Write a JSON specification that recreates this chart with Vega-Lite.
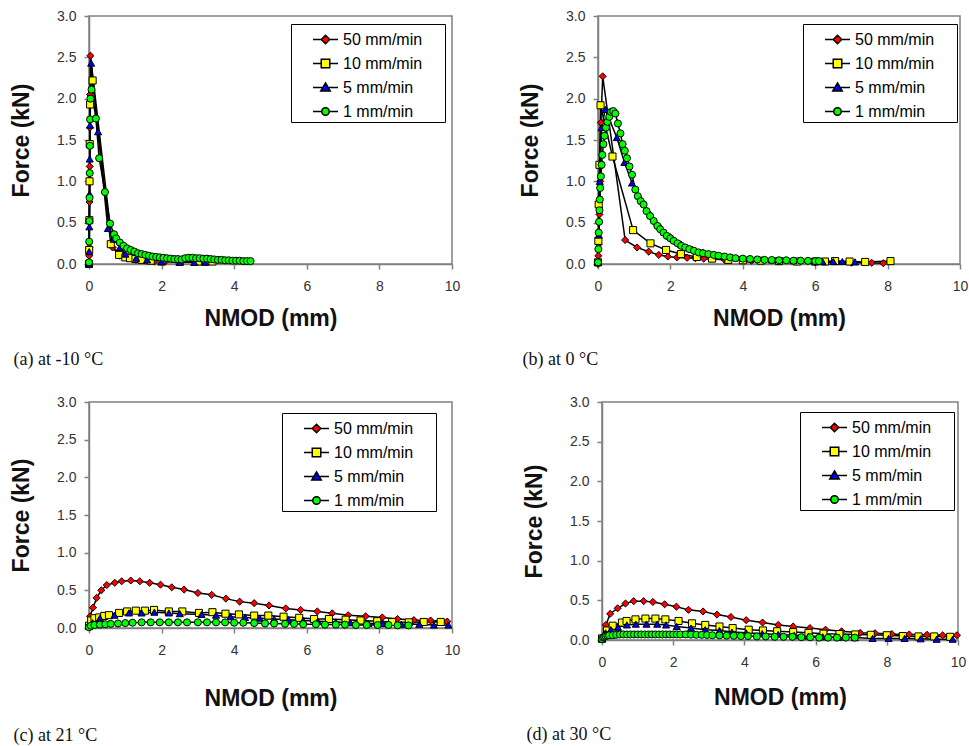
{
  "$schema": "https://vega.github.io/schema/vega-lite/v6.json",
  "background": "white",
  "padding": {"left": 9, "top": 8, "right": 0, "bottom": 0},
  "config": {
    "view": {"stroke": "#808080", "strokeWidth": 1.5},
    "axis": {
      "grid": false,
      "domainColor": "#808080", "domainWidth": 1.5,
      "tickColor": "#808080", "tickWidth": 1.5, "tickSize": 5,
      "labelFont": "Liberation Sans", "labelFontSize": 14, "labelColor": "#333333",
      "titleFont": "Liberation Sans", "titleFontSize": 23, "titleFontWeight": "bold", "titleColor": "#111111",
      "labelFlush": false
    },
    "axisX": {"labelPadding": 10, "titlePadding": 14},
    "axisY": {"labelPadding": 8, "titlePadding": 23},
    "title": {"font": "Liberation Serif", "fontSize": 18, "fontWeight": "normal", "color": "#111111", "orient": "bottom", "anchor": "start", "frame": "bounds", "offset": 21, "dx": 3},
    "legend": {"labelFont": "Liberation Sans", "labelFontSize": 16, "labelColor": "black", "padding": 2, "rowPadding": 2, "symbolOffset": 19, "labelOffset": 4, "symbolSize": 625, "symbolOpacity": 1, "symbolStrokeColor": "black", "symbolStrokeWidth": 1.5, "strokeColor": "black", "fillColor": "white", "title": null, "orient": "none"}
  },
  "datasets": {
    "a": [
      {"s":"50 mm/min","x":0,"y":0},{"s":"50 mm/min","x":0.005,"y":0.1},{"s":"50 mm/min","x":0.01,"y":0.2},{"s":"50 mm/min","x":0.015,"y":0.75},{"s":"50 mm/min","x":0.02,"y":1.18},{"s":"50 mm/min","x":0.025,"y":1.65},{"s":"50 mm/min","x":0.03,"y":2.05},{"s":"50 mm/min","x":0.04,"y":2.52},{"s":"50 mm/min","x":0.65,"y":0.2},{"s":"50 mm/min","x":0.85,"y":0.1},{"s":"50 mm/min","x":1.05,"y":0.07},{"s":"50 mm/min","x":1.3,"y":0.05},{"s":"50 mm/min","x":1.55,"y":0.04},{"s":"50 mm/min","x":1.8,"y":0.03},{"s":"50 mm/min","x":2.1,"y":0.03},
      {"s":"10 mm/min","x":0,"y":0},{"s":"10 mm/min","x":0.005,"y":0.17},{"s":"10 mm/min","x":0.01,"y":0.53},{"s":"10 mm/min","x":0.015,"y":1.0},{"s":"10 mm/min","x":0.02,"y":1.45},{"s":"10 mm/min","x":0.03,"y":1.93},{"s":"10 mm/min","x":0.1,"y":2.22},{"s":"10 mm/min","x":0.6,"y":0.24},{"s":"10 mm/min","x":0.83,"y":0.11},{"s":"10 mm/min","x":1.0,"y":0.08},{"s":"10 mm/min","x":1.13,"y":0.07},{"s":"10 mm/min","x":1.28,"y":0.06},{"s":"10 mm/min","x":1.45,"y":0.05},{"s":"10 mm/min","x":1.7,"y":0.04},{"s":"10 mm/min","x":2.0,"y":0.03},{"s":"10 mm/min","x":2.5,"y":0.03},{"s":"10 mm/min","x":3.0,"y":0.03},{"s":"10 mm/min","x":3.4,"y":0.03},
      {"s":"5 mm/min","x":0,"y":0},{"s":"5 mm/min","x":0.005,"y":0.15},{"s":"5 mm/min","x":0.01,"y":0.45},{"s":"5 mm/min","x":0.015,"y":0.85},{"s":"5 mm/min","x":0.02,"y":1.27},{"s":"5 mm/min","x":0.03,"y":1.68},{"s":"5 mm/min","x":0.06,"y":2.43},{"s":"5 mm/min","x":0.25,"y":1.6},{"s":"5 mm/min","x":0.52,"y":0.43},{"s":"5 mm/min","x":0.68,"y":0.3},{"s":"5 mm/min","x":0.85,"y":0.2},{"s":"5 mm/min","x":1.0,"y":0.12},{"s":"5 mm/min","x":1.3,"y":0.07},{"s":"5 mm/min","x":1.6,"y":0.05},{"s":"5 mm/min","x":2.0,"y":0.03},{"s":"5 mm/min","x":2.5,"y":0.02},{"s":"5 mm/min","x":2.9,"y":0.02},{"s":"5 mm/min","x":3.2,"y":0.02},
      {"s":"1 mm/min","x":0,"y":0.02},{"s":"1 mm/min","x":0.005,"y":0.27},{"s":"1 mm/min","x":0.01,"y":0.52},{"s":"1 mm/min","x":0.015,"y":0.8},{"s":"1 mm/min","x":0.02,"y":1.1},{"s":"1 mm/min","x":0.025,"y":1.43},{"s":"1 mm/min","x":0.03,"y":1.75},{"s":"1 mm/min","x":0.04,"y":2.0},{"s":"1 mm/min","x":0.07,"y":2.11},{"s":"1 mm/min","x":0.19,"y":1.76},{"s":"1 mm/min","x":0.28,"y":1.28},{"s":"1 mm/min","x":0.44,"y":0.87},{"s":"1 mm/min","x":0.58,"y":0.49},{"s":"1 mm/min","x":0.69,"y":0.36},{"s":"1 mm/min","x":0.75,"y":0.31},{"s":"1 mm/min","x":0.85,"y":0.26},{"s":"1 mm/min","x":0.95,"y":0.22},{"s":"1 mm/min","x":1.05,"y":0.19},{"s":"1 mm/min","x":1.15,"y":0.17},{"s":"1 mm/min","x":1.25,"y":0.15},{"s":"1 mm/min","x":1.35,"y":0.13},{"s":"1 mm/min","x":1.45,"y":0.12},{"s":"1 mm/min","x":1.55,"y":0.11},{"s":"1 mm/min","x":1.65,"y":0.1},{"s":"1 mm/min","x":1.75,"y":0.09},{"s":"1 mm/min","x":1.85,"y":0.085},{"s":"1 mm/min","x":1.95,"y":0.08},{"s":"1 mm/min","x":2.05,"y":0.075},{"s":"1 mm/min","x":2.15,"y":0.07},{"s":"1 mm/min","x":2.25,"y":0.065},{"s":"1 mm/min","x":2.35,"y":0.06},{"s":"1 mm/min","x":2.45,"y":0.06},{"s":"1 mm/min","x":2.55,"y":0.055},{"s":"1 mm/min","x":2.65,"y":0.07},{"s":"1 mm/min","x":2.75,"y":0.075},{"s":"1 mm/min","x":2.85,"y":0.075},{"s":"1 mm/min","x":2.95,"y":0.07},{"s":"1 mm/min","x":3.05,"y":0.07},{"s":"1 mm/min","x":3.15,"y":0.065},{"s":"1 mm/min","x":3.25,"y":0.065},{"s":"1 mm/min","x":3.35,"y":0.06},{"s":"1 mm/min","x":3.45,"y":0.055},{"s":"1 mm/min","x":3.55,"y":0.05},{"s":"1 mm/min","x":3.65,"y":0.05},{"s":"1 mm/min","x":3.75,"y":0.045},{"s":"1 mm/min","x":3.85,"y":0.045},{"s":"1 mm/min","x":3.95,"y":0.04},{"s":"1 mm/min","x":4.05,"y":0.04},{"s":"1 mm/min","x":4.15,"y":0.04},{"s":"1 mm/min","x":4.25,"y":0.035},{"s":"1 mm/min","x":4.35,"y":0.035},{"s":"1 mm/min","x":4.45,"y":0.035}
    ],
    "b": [
      {"s":"50 mm/min","x":0,"y":0},{"s":"50 mm/min","x":0.01,"y":0.1},{"s":"50 mm/min","x":0.02,"y":0.24},{"s":"50 mm/min","x":0.04,"y":0.6},{"s":"50 mm/min","x":0.06,"y":1.0},{"s":"50 mm/min","x":0.08,"y":1.71},{"s":"50 mm/min","x":0.13,"y":2.27},{"s":"50 mm/min","x":0.75,"y":0.29},{"s":"50 mm/min","x":1.08,"y":0.2},{"s":"50 mm/min","x":1.4,"y":0.15},{"s":"50 mm/min","x":1.68,"y":0.11},{"s":"50 mm/min","x":1.93,"y":0.09},{"s":"50 mm/min","x":2.18,"y":0.08},{"s":"50 mm/min","x":2.46,"y":0.075},{"s":"50 mm/min","x":2.69,"y":0.07},{"s":"50 mm/min","x":2.92,"y":0.065},{"s":"50 mm/min","x":3.5,"y":0.05},{"s":"50 mm/min","x":4.24,"y":0.04},{"s":"50 mm/min","x":5.0,"y":0.03},{"s":"50 mm/min","x":6.0,"y":0.02},{"s":"50 mm/min","x":7.0,"y":0.015},{"s":"50 mm/min","x":7.56,"y":0.015},{"s":"50 mm/min","x":7.88,"y":0.01},
      {"s":"10 mm/min","x":0,"y":0.02},{"s":"10 mm/min","x":0.01,"y":0.28},{"s":"10 mm/min","x":0.02,"y":0.72},{"s":"10 mm/min","x":0.04,"y":1.2},{"s":"10 mm/min","x":0.07,"y":1.92},{"s":"10 mm/min","x":0.4,"y":1.3},{"s":"10 mm/min","x":0.97,"y":0.41},{"s":"10 mm/min","x":1.45,"y":0.25},{"s":"10 mm/min","x":1.88,"y":0.17},{"s":"10 mm/min","x":2.29,"y":0.12},{"s":"10 mm/min","x":2.73,"y":0.085},{"s":"10 mm/min","x":3.15,"y":0.065},{"s":"10 mm/min","x":3.6,"y":0.05},{"s":"10 mm/min","x":4.0,"y":0.045},{"s":"10 mm/min","x":4.5,"y":0.04},{"s":"10 mm/min","x":5.0,"y":0.035},{"s":"10 mm/min","x":5.5,"y":0.03},{"s":"10 mm/min","x":6.0,"y":0.03},{"s":"10 mm/min","x":6.27,"y":0.03},{"s":"10 mm/min","x":6.55,"y":0.035},{"s":"10 mm/min","x":6.95,"y":0.03},{"s":"10 mm/min","x":7.38,"y":0.025},{"s":"10 mm/min","x":8.08,"y":0.035},
      {"s":"5 mm/min","x":0,"y":0.02},{"s":"5 mm/min","x":0.02,"y":0.35},{"s":"5 mm/min","x":0.05,"y":1.0},{"s":"5 mm/min","x":0.1,"y":1.65},{"s":"5 mm/min","x":0.2,"y":1.87},{"s":"5 mm/min","x":0.52,"y":1.53},{"s":"5 mm/min","x":0.73,"y":1.23},{"s":"5 mm/min","x":0.94,"y":0.98},{"s":"5 mm/min","x":1.19,"y":0.78},{"s":"5 mm/min","x":1.45,"y":0.6},{"s":"5 mm/min","x":1.72,"y":0.45},{"s":"5 mm/min","x":2.0,"y":0.33},{"s":"5 mm/min","x":2.3,"y":0.24},{"s":"5 mm/min","x":2.6,"y":0.18},{"s":"5 mm/min","x":2.9,"y":0.14},{"s":"5 mm/min","x":3.3,"y":0.1},{"s":"5 mm/min","x":3.7,"y":0.08},{"s":"5 mm/min","x":4.2,"y":0.06},{"s":"5 mm/min","x":4.8,"y":0.05},{"s":"5 mm/min","x":5.4,"y":0.04},{"s":"5 mm/min","x":6.0,"y":0.035},{"s":"5 mm/min","x":6.2,"y":0.03},{"s":"5 mm/min","x":6.5,"y":0.03},{"s":"5 mm/min","x":6.75,"y":0.03},{"s":"5 mm/min","x":7.1,"y":0.025},
      {"s":"1 mm/min","x":0,"y":0.02},{"s":"1 mm/min","x":0.01,"y":0.18},{"s":"1 mm/min","x":0.02,"y":0.38},{"s":"1 mm/min","x":0.03,"y":0.51},{"s":"1 mm/min","x":0.04,"y":0.65},{"s":"1 mm/min","x":0.05,"y":0.78},{"s":"1 mm/min","x":0.06,"y":0.92},{"s":"1 mm/min","x":0.08,"y":1.06},{"s":"1 mm/min","x":0.1,"y":1.2},{"s":"1 mm/min","x":0.12,"y":1.32},{"s":"1 mm/min","x":0.15,"y":1.45},{"s":"1 mm/min","x":0.18,"y":1.55},{"s":"1 mm/min","x":0.22,"y":1.65},{"s":"1 mm/min","x":0.26,"y":1.72},{"s":"1 mm/min","x":0.31,"y":1.78},{"s":"1 mm/min","x":0.36,"y":1.84},{"s":"1 mm/min","x":0.42,"y":1.85},{"s":"1 mm/min","x":0.48,"y":1.82},{"s":"1 mm/min","x":0.55,"y":1.7},{"s":"1 mm/min","x":0.62,"y":1.58},{"s":"1 mm/min","x":0.68,"y":1.45},{"s":"1 mm/min","x":0.74,"y":1.37},{"s":"1 mm/min","x":0.8,"y":1.28},{"s":"1 mm/min","x":0.87,"y":1.18},{"s":"1 mm/min","x":0.94,"y":1.08},{"s":"1 mm/min","x":1.03,"y":0.9},{"s":"1 mm/min","x":1.1,"y":0.82},{"s":"1 mm/min","x":1.18,"y":0.76},{"s":"1 mm/min","x":1.26,"y":0.72},{"s":"1 mm/min","x":1.34,"y":0.64},{"s":"1 mm/min","x":1.44,"y":0.58},{"s":"1 mm/min","x":1.54,"y":0.52},{"s":"1 mm/min","x":1.64,"y":0.46},{"s":"1 mm/min","x":1.72,"y":0.42},{"s":"1 mm/min","x":1.81,"y":0.38},{"s":"1 mm/min","x":1.9,"y":0.34},{"s":"1 mm/min","x":2.0,"y":0.31},{"s":"1 mm/min","x":2.09,"y":0.28},{"s":"1 mm/min","x":2.2,"y":0.25},{"s":"1 mm/min","x":2.3,"y":0.22},{"s":"1 mm/min","x":2.41,"y":0.2},{"s":"1 mm/min","x":2.52,"y":0.18},{"s":"1 mm/min","x":2.65,"y":0.16},{"s":"1 mm/min","x":2.78,"y":0.14},{"s":"1 mm/min","x":2.9,"y":0.13},{"s":"1 mm/min","x":3.05,"y":0.12},{"s":"1 mm/min","x":3.2,"y":0.11},{"s":"1 mm/min","x":3.33,"y":0.1},{"s":"1 mm/min","x":3.5,"y":0.09},{"s":"1 mm/min","x":3.65,"y":0.08},{"s":"1 mm/min","x":3.8,"y":0.07},{"s":"1 mm/min","x":4.0,"y":0.065},{"s":"1 mm/min","x":4.2,"y":0.06},{"s":"1 mm/min","x":4.4,"y":0.055},{"s":"1 mm/min","x":4.6,"y":0.05},{"s":"1 mm/min","x":4.8,"y":0.048},{"s":"1 mm/min","x":5.0,"y":0.045},{"s":"1 mm/min","x":5.2,"y":0.045},{"s":"1 mm/min","x":5.4,"y":0.04},{"s":"1 mm/min","x":5.6,"y":0.04},{"s":"1 mm/min","x":5.8,"y":0.038},{"s":"1 mm/min","x":6.0,"y":0.035},{"s":"1 mm/min","x":6.1,"y":0.035}
    ],
    "c": [
      {"s":"50 mm/min","x":0,"y":0.03},{"s":"50 mm/min","x":0.03,"y":0.155},{"s":"50 mm/min","x":0.11,"y":0.27},{"s":"50 mm/min","x":0.21,"y":0.4},{"s":"50 mm/min","x":0.34,"y":0.5},{"s":"50 mm/min","x":0.49,"y":0.57},{"s":"50 mm/min","x":0.71,"y":0.6},{"s":"50 mm/min","x":0.9,"y":0.62},{"s":"50 mm/min","x":1.15,"y":0.63},{"s":"50 mm/min","x":1.4,"y":0.62},{"s":"50 mm/min","x":1.67,"y":0.6},{"s":"50 mm/min","x":1.97,"y":0.575},{"s":"50 mm/min","x":2.28,"y":0.54},{"s":"50 mm/min","x":2.62,"y":0.51},{"s":"50 mm/min","x":3.0,"y":0.465},{"s":"50 mm/min","x":3.38,"y":0.44},{"s":"50 mm/min","x":3.77,"y":0.39},{"s":"50 mm/min","x":4.15,"y":0.35},{"s":"50 mm/min","x":4.55,"y":0.33},{"s":"50 mm/min","x":4.96,"y":0.3},{"s":"50 mm/min","x":5.42,"y":0.26},{"s":"50 mm/min","x":5.83,"y":0.24},{"s":"50 mm/min","x":6.29,"y":0.22},{"s":"50 mm/min","x":6.7,"y":0.195},{"s":"50 mm/min","x":7.14,"y":0.17},{"s":"50 mm/min","x":7.62,"y":0.155},{"s":"50 mm/min","x":8.08,"y":0.14},{"s":"50 mm/min","x":8.5,"y":0.12},{"s":"50 mm/min","x":8.95,"y":0.105},{"s":"50 mm/min","x":9.41,"y":0.1},{"s":"50 mm/min","x":9.87,"y":0.085},
      {"s":"10 mm/min","x":0,"y":0.03},{"s":"10 mm/min","x":0.06,"y":0.1},{"s":"10 mm/min","x":0.15,"y":0.13},{"s":"10 mm/min","x":0.28,"y":0.14},{"s":"10 mm/min","x":0.42,"y":0.16},{"s":"10 mm/min","x":0.55,"y":0.17},{"s":"10 mm/min","x":0.83,"y":0.2},{"s":"10 mm/min","x":1.05,"y":0.22},{"s":"10 mm/min","x":1.29,"y":0.23},{"s":"10 mm/min","x":1.54,"y":0.23},{"s":"10 mm/min","x":1.79,"y":0.24},{"s":"10 mm/min","x":2.2,"y":0.22},{"s":"10 mm/min","x":2.57,"y":0.22},{"s":"10 mm/min","x":3.03,"y":0.2},{"s":"10 mm/min","x":3.4,"y":0.21},{"s":"10 mm/min","x":3.76,"y":0.19},{"s":"10 mm/min","x":4.13,"y":0.18},{"s":"10 mm/min","x":4.55,"y":0.165},{"s":"10 mm/min","x":4.94,"y":0.165},{"s":"10 mm/min","x":5.36,"y":0.15},{"s":"10 mm/min","x":5.79,"y":0.135},{"s":"10 mm/min","x":6.2,"y":0.12},{"s":"10 mm/min","x":6.61,"y":0.12},{"s":"10 mm/min","x":7.07,"y":0.11},{"s":"10 mm/min","x":7.48,"y":0.1},{"s":"10 mm/min","x":7.94,"y":0.09},{"s":"10 mm/min","x":8.35,"y":0.08},{"s":"10 mm/min","x":8.81,"y":0.075},{"s":"10 mm/min","x":9.22,"y":0.08},{"s":"10 mm/min","x":9.69,"y":0.08},
      {"s":"5 mm/min","x":0,"y":0.02},{"s":"5 mm/min","x":0.1,"y":0.07},{"s":"5 mm/min","x":0.3,"y":0.13},{"s":"5 mm/min","x":0.7,"y":0.17},{"s":"5 mm/min","x":1.1,"y":0.2},{"s":"5 mm/min","x":1.45,"y":0.2},{"s":"5 mm/min","x":1.8,"y":0.21},{"s":"5 mm/min","x":2.2,"y":0.2},{"s":"5 mm/min","x":2.5,"y":0.19},{"s":"5 mm/min","x":3.1,"y":0.18},{"s":"5 mm/min","x":3.5,"y":0.17},{"s":"5 mm/min","x":3.9,"y":0.15},{"s":"5 mm/min","x":4.3,"y":0.14},{"s":"5 mm/min","x":4.7,"y":0.13},{"s":"5 mm/min","x":5.1,"y":0.12},{"s":"5 mm/min","x":5.5,"y":0.11},{"s":"5 mm/min","x":5.9,"y":0.1},{"s":"5 mm/min","x":6.3,"y":0.09},{"s":"5 mm/min","x":6.8,"y":0.08},{"s":"5 mm/min","x":7.2,"y":0.07},{"s":"5 mm/min","x":7.7,"y":0.06},{"s":"5 mm/min","x":8.1,"y":0.06},{"s":"5 mm/min","x":8.6,"y":0.05},{"s":"5 mm/min","x":9.1,"y":0.05},{"s":"5 mm/min","x":9.5,"y":0.04},{"s":"5 mm/min","x":9.9,"y":0.04},
      {"s":"1 mm/min","x":0,"y":0.01},{"s":"1 mm/min","x":0.05,"y":0.03},{"s":"1 mm/min","x":0.15,"y":0.04},{"s":"1 mm/min","x":0.3,"y":0.045},{"s":"1 mm/min","x":0.45,"y":0.05},{"s":"1 mm/min","x":0.6,"y":0.055},{"s":"1 mm/min","x":0.8,"y":0.06},{"s":"1 mm/min","x":1.0,"y":0.065},{"s":"1 mm/min","x":1.2,"y":0.07},{"s":"1 mm/min","x":1.45,"y":0.075},{"s":"1 mm/min","x":1.7,"y":0.075},{"s":"1 mm/min","x":1.95,"y":0.075},{"s":"1 mm/min","x":2.2,"y":0.075},{"s":"1 mm/min","x":2.45,"y":0.075},{"s":"1 mm/min","x":2.7,"y":0.075},{"s":"1 mm/min","x":3.0,"y":0.075},{"s":"1 mm/min","x":3.25,"y":0.075},{"s":"1 mm/min","x":3.5,"y":0.075},{"s":"1 mm/min","x":3.75,"y":0.075},{"s":"1 mm/min","x":4.0,"y":0.07},{"s":"1 mm/min","x":4.25,"y":0.07},{"s":"1 mm/min","x":4.55,"y":0.065},{"s":"1 mm/min","x":4.85,"y":0.06},{"s":"1 mm/min","x":5.1,"y":0.06},{"s":"1 mm/min","x":5.4,"y":0.055},{"s":"1 mm/min","x":5.65,"y":0.055},{"s":"1 mm/min","x":5.9,"y":0.05},{"s":"1 mm/min","x":6.25,"y":0.05},{"s":"1 mm/min","x":6.5,"y":0.045},{"s":"1 mm/min","x":6.8,"y":0.045},{"s":"1 mm/min","x":7.05,"y":0.045},{"s":"1 mm/min","x":7.35,"y":0.04},{"s":"1 mm/min","x":7.65,"y":0.04},{"s":"1 mm/min","x":7.95,"y":0.04},{"s":"1 mm/min","x":8.25,"y":0.04},{"s":"1 mm/min","x":8.5,"y":0.035},{"s":"1 mm/min","x":8.8,"y":0.035}
    ],
    "d": [
      {"s":"50 mm/min","x":0,"y":0.03},{"s":"50 mm/min","x":0.11,"y":0.19},{"s":"50 mm/min","x":0.23,"y":0.33},{"s":"50 mm/min","x":0.44,"y":0.4},{"s":"50 mm/min","x":0.66,"y":0.46},{"s":"50 mm/min","x":0.89,"y":0.49},{"s":"50 mm/min","x":1.17,"y":0.49},{"s":"50 mm/min","x":1.43,"y":0.48},{"s":"50 mm/min","x":1.76,"y":0.45},{"s":"50 mm/min","x":2.09,"y":0.42},{"s":"50 mm/min","x":2.43,"y":0.38},{"s":"50 mm/min","x":2.84,"y":0.36},{"s":"50 mm/min","x":3.23,"y":0.32},{"s":"50 mm/min","x":3.62,"y":0.29},{"s":"50 mm/min","x":4.05,"y":0.25},{"s":"50 mm/min","x":4.51,"y":0.22},{"s":"50 mm/min","x":4.95,"y":0.19},{"s":"50 mm/min","x":5.37,"y":0.17},{"s":"50 mm/min","x":5.84,"y":0.15},{"s":"50 mm/min","x":6.28,"y":0.13},{"s":"50 mm/min","x":6.73,"y":0.11},{"s":"50 mm/min","x":7.25,"y":0.09},{"s":"50 mm/min","x":7.67,"y":0.085},{"s":"50 mm/min","x":8.14,"y":0.075},{"s":"50 mm/min","x":8.63,"y":0.07},{"s":"50 mm/min","x":9.13,"y":0.065},{"s":"50 mm/min","x":9.57,"y":0.06},{"s":"50 mm/min","x":9.97,"y":0.06},
      {"s":"10 mm/min","x":0,"y":0.02},{"s":"10 mm/min","x":0.14,"y":0.12},{"s":"10 mm/min","x":0.3,"y":0.18},{"s":"10 mm/min","x":0.56,"y":0.22},{"s":"10 mm/min","x":0.69,"y":0.24},{"s":"10 mm/min","x":0.94,"y":0.26},{"s":"10 mm/min","x":1.22,"y":0.27},{"s":"10 mm/min","x":1.5,"y":0.27},{"s":"10 mm/min","x":1.78,"y":0.26},{"s":"10 mm/min","x":2.15,"y":0.24},{"s":"10 mm/min","x":2.53,"y":0.21},{"s":"10 mm/min","x":2.9,"y":0.19},{"s":"10 mm/min","x":3.3,"y":0.17},{"s":"10 mm/min","x":3.67,"y":0.15},{"s":"10 mm/min","x":4.12,"y":0.13},{"s":"10 mm/min","x":4.52,"y":0.12},{"s":"10 mm/min","x":4.92,"y":0.11},{"s":"10 mm/min","x":5.37,"y":0.1},{"s":"10 mm/min","x":5.8,"y":0.09},{"s":"10 mm/min","x":6.22,"y":0.08},{"s":"10 mm/min","x":6.67,"y":0.075},{"s":"10 mm/min","x":7.11,"y":0.07},{"s":"10 mm/min","x":7.55,"y":0.065},{"s":"10 mm/min","x":8.0,"y":0.06},{"s":"10 mm/min","x":8.45,"y":0.05},{"s":"10 mm/min","x":8.89,"y":0.045},{"s":"10 mm/min","x":9.33,"y":0.045},{"s":"10 mm/min","x":9.78,"y":0.04},
      {"s":"5 mm/min","x":0,"y":0.01},{"s":"5 mm/min","x":0.1,"y":0.09},{"s":"5 mm/min","x":0.25,"y":0.13},{"s":"5 mm/min","x":0.45,"y":0.16},{"s":"5 mm/min","x":0.7,"y":0.19},{"s":"5 mm/min","x":0.95,"y":0.2},{"s":"5 mm/min","x":1.25,"y":0.2},{"s":"5 mm/min","x":1.55,"y":0.2},{"s":"5 mm/min","x":1.8,"y":0.19},{"s":"5 mm/min","x":2.1,"y":0.17},{"s":"5 mm/min","x":2.5,"y":0.15},{"s":"5 mm/min","x":2.9,"y":0.13},{"s":"5 mm/min","x":3.3,"y":0.12},{"s":"5 mm/min","x":3.65,"y":0.1},{"s":"5 mm/min","x":4.05,"y":0.09},{"s":"5 mm/min","x":4.5,"y":0.08},{"s":"5 mm/min","x":4.95,"y":0.07},{"s":"5 mm/min","x":5.4,"y":0.06},{"s":"5 mm/min","x":5.8,"y":0.05},{"s":"5 mm/min","x":6.2,"y":0.04},{"s":"5 mm/min","x":6.65,"y":0.035},{"s":"5 mm/min","x":7.1,"y":0.03},{"s":"5 mm/min","x":7.6,"y":0.02},{"s":"5 mm/min","x":8.05,"y":0.02},{"s":"5 mm/min","x":8.5,"y":0.02},{"s":"5 mm/min","x":8.95,"y":0.015},{"s":"5 mm/min","x":9.4,"y":0.01},{"s":"5 mm/min","x":9.85,"y":0.01},
      {"s":"1 mm/min","x":0,"y":0.01},{"s":"1 mm/min","x":0.03,"y":0.03},{"s":"1 mm/min","x":0.06,"y":0.04},{"s":"1 mm/min","x":0.1,"y":0.05},{"s":"1 mm/min","x":0.15,"y":0.055},{"s":"1 mm/min","x":0.2,"y":0.06},{"s":"1 mm/min","x":0.3,"y":0.06},{"s":"1 mm/min","x":0.4,"y":0.065},{"s":"1 mm/min","x":0.5,"y":0.07},{"s":"1 mm/min","x":0.6,"y":0.07},{"s":"1 mm/min","x":0.7,"y":0.07},{"s":"1 mm/min","x":0.8,"y":0.07},{"s":"1 mm/min","x":0.9,"y":0.07},{"s":"1 mm/min","x":1.0,"y":0.07},{"s":"1 mm/min","x":1.1,"y":0.07},{"s":"1 mm/min","x":1.2,"y":0.07},{"s":"1 mm/min","x":1.3,"y":0.07},{"s":"1 mm/min","x":1.4,"y":0.07},{"s":"1 mm/min","x":1.5,"y":0.07},{"s":"1 mm/min","x":1.6,"y":0.07},{"s":"1 mm/min","x":1.7,"y":0.07},{"s":"1 mm/min","x":1.8,"y":0.07},{"s":"1 mm/min","x":1.9,"y":0.07},{"s":"1 mm/min","x":2.0,"y":0.07},{"s":"1 mm/min","x":2.1,"y":0.07},{"s":"1 mm/min","x":2.2,"y":0.07},{"s":"1 mm/min","x":2.35,"y":0.07},{"s":"1 mm/min","x":2.5,"y":0.068},{"s":"1 mm/min","x":2.65,"y":0.066},{"s":"1 mm/min","x":2.8,"y":0.065},{"s":"1 mm/min","x":2.95,"y":0.063},{"s":"1 mm/min","x":3.1,"y":0.06},{"s":"1 mm/min","x":3.3,"y":0.058},{"s":"1 mm/min","x":3.5,"y":0.055},{"s":"1 mm/min","x":3.7,"y":0.053},{"s":"1 mm/min","x":3.9,"y":0.05},{"s":"1 mm/min","x":4.1,"y":0.05},{"s":"1 mm/min","x":4.35,"y":0.045},{"s":"1 mm/min","x":4.6,"y":0.045},{"s":"1 mm/min","x":4.85,"y":0.04},{"s":"1 mm/min","x":5.1,"y":0.04},{"s":"1 mm/min","x":5.35,"y":0.04},{"s":"1 mm/min","x":5.6,"y":0.035},{"s":"1 mm/min","x":5.85,"y":0.035},{"s":"1 mm/min","x":6.1,"y":0.03},{"s":"1 mm/min","x":6.35,"y":0.03},{"s":"1 mm/min","x":6.6,"y":0.03},{"s":"1 mm/min","x":6.85,"y":0.03},{"s":"1 mm/min","x":7.1,"y":0.03}
    ]
  },
  "spacing": 24,
  "resolve": {"scale": {"shape": "independent", "fill": "independent"}, "legend": {"shape": "independent", "fill": "independent"}},
  "vconcat": [
    {
      "spacing": 57,
      "resolve": {"scale": {"shape": "independent", "fill": "independent"}, "legend": {"shape": "independent", "fill": "independent"}},
      "hconcat": [
        {
          "width": 363, "height": 248,
          "data": {"name": "a"},
          "title": {"text": "(a) at -10 °C"},
          "encoding": {
            "x": {"field": "x", "type": "quantitative", "scale": {"domain": [0, 10], "nice": false}, "axis": {"title": "NMOD (mm)", "values": [0, 2, 4, 6, 8, 10]}},
            "y": {"field": "y", "type": "quantitative", "scale": {"domain": [0, 3], "nice": false}, "axis": {"title": "Force (kN)", "values": [0, 0.5, 1, 1.5, 2, 2.5, 3], "format": ".1f"}}
          },
          "layer": [
            {"mark": {"type": "line", "color": "black", "strokeWidth": 1.5}, "encoding": {"detail": {"field": "s", "type": "nominal"}}},
            {"transform": [{"filter": "datum.s === '50 mm/min'"}], "mark": {"type": "point", "shape": "diamond", "filled": true, "fill": "#FF0000", "stroke": "black", "strokeWidth": 1, "size": 50, "opacity": 1}},
            {"transform": [{"filter": "datum.s === '10 mm/min'"}], "mark": {"type": "point", "shape": "square", "filled": true, "fill": "#FFFF00", "stroke": "black", "strokeWidth": 1, "size": 50, "opacity": 1}},
            {"transform": [{"filter": "datum.s === '5 mm/min'"}], "mark": {"type": "point", "shape": "triangle-up", "filled": true, "fill": "#0000FF", "stroke": "black", "strokeWidth": 1, "size": 50, "opacity": 1}},
            {"transform": [{"filter": "datum.s === '1 mm/min'"}], "mark": {"type": "point", "shape": "circle", "filled": true, "fill": "#00FF00", "stroke": "black", "strokeWidth": 1, "size": 50, "opacity": 1}},
            {"transform": [{"filter": "false"}], "mark": {"type": "point", "filled": true, "stroke": "black", "strokeWidth": 1.5, "size": 625, "opacity": 1},
             "encoding": {
               "fill": {"field": "s", "type": "nominal", "scale": {"domain": ["50 mm/min", "10 mm/min", "5 mm/min", "1 mm/min"], "range": ["#FF0000", "#FFFF00", "#0000FF", "#00FF00"]},
                 "legend": {"legendX": 202, "legendY": 8, "encode": {"legend": {"strokeWidth": {"value": 1.5}}}}},
               "shape": {"field": "s", "type": "nominal",
                 "scale": {"domain": ["50 mm/min", "10 mm/min", "5 mm/min", "1 mm/min"], "range": ["M-1,0H-0.34M0.34,0H1M0,-0.34L0.34,0L0,0.34L-0.34,0ZM9.1,0", "M-1,0H-0.34M0.34,0H1M-0.34,-0.34H0.34V0.34H-0.34ZM9.1,0", "M-1,0H-0.2M0.2,0H1M0,-0.36L0.38,0.28H-0.38ZM9.1,0", "M-1,0H-0.3M0.3,0H1M-0.3,0A0.3,0.3,0,1,0,0.3,0A0.3,0.3,0,1,0,-0.3,0ZM9.1,0"]},
                 "legend": {"legendX": 202, "legendY": 8, "encode": {"legend": {"strokeWidth": {"value": 1.5}}}}}
             }}
          ]
        },
        {
          "width": 362, "height": 248,
          "data": {"name": "b"},
          "title": {"text": "(b) at 0 °C"},
          "encoding": {
            "x": {"field": "x", "type": "quantitative", "scale": {"domain": [0, 10], "nice": false}, "axis": {"title": "NMOD (mm)", "values": [0, 2, 4, 6, 8, 10]}},
            "y": {"field": "y", "type": "quantitative", "scale": {"domain": [0, 3], "nice": false}, "axis": {"title": "Force (kN)", "values": [0, 0.5, 1, 1.5, 2, 2.5, 3], "format": ".1f"}}
          },
          "layer": [
            {"mark": {"type": "line", "color": "black", "strokeWidth": 1.5}, "encoding": {"detail": {"field": "s", "type": "nominal"}}},
            {"transform": [{"filter": "datum.s === '50 mm/min'"}], "mark": {"type": "point", "shape": "diamond", "filled": true, "fill": "#FF0000", "stroke": "black", "strokeWidth": 1, "size": 50, "opacity": 1}},
            {"transform": [{"filter": "datum.s === '10 mm/min'"}], "mark": {"type": "point", "shape": "square", "filled": true, "fill": "#FFFF00", "stroke": "black", "strokeWidth": 1, "size": 50, "opacity": 1}},
            {"transform": [{"filter": "datum.s === '5 mm/min'"}], "mark": {"type": "point", "shape": "triangle-up", "filled": true, "fill": "#0000FF", "stroke": "black", "strokeWidth": 1, "size": 50, "opacity": 1}},
            {"transform": [{"filter": "datum.s === '1 mm/min'"}], "mark": {"type": "point", "shape": "circle", "filled": true, "fill": "#00FF00", "stroke": "black", "strokeWidth": 1, "size": 50, "opacity": 1}},
            {"transform": [{"filter": "false"}], "mark": {"type": "point", "filled": true, "stroke": "black", "strokeWidth": 1.5, "size": 625, "opacity": 1},
             "encoding": {
               "fill": {"field": "s", "type": "nominal", "scale": {"domain": ["50 mm/min", "10 mm/min", "5 mm/min", "1 mm/min"], "range": ["#FF0000", "#FFFF00", "#0000FF", "#00FF00"]},
                 "legend": {"legendX": 205, "legendY": 8, "encode": {"legend": {"strokeWidth": {"value": 1.5}}}}},
               "shape": {"field": "s", "type": "nominal",
                 "scale": {"domain": ["50 mm/min", "10 mm/min", "5 mm/min", "1 mm/min"], "range": ["M-1,0H-0.34M0.34,0H1M0,-0.34L0.34,0L0,0.34L-0.34,0ZM9.1,0", "M-1,0H-0.34M0.34,0H1M-0.34,-0.34H0.34V0.34H-0.34ZM9.1,0", "M-1,0H-0.2M0.2,0H1M0,-0.36L0.38,0.28H-0.38ZM9.1,0", "M-1,0H-0.3M0.3,0H1M-0.3,0A0.3,0.3,0,1,0,0.3,0A0.3,0.3,0,1,0,-0.3,0ZM9.1,0"]},
                 "legend": {"legendX": 205, "legendY": 8, "encode": {"legend": {"strokeWidth": {"value": 1.5}}}}}
             }}
          ]
        }
      ]
    },
    {
      "spacing": 61,
      "resolve": {"scale": {"shape": "independent", "fill": "independent"}, "legend": {"shape": "independent", "fill": "independent"}},
      "hconcat": [
        {
          "width": 363, "height": 226,
          "data": {"name": "c"},
          "title": {"text": "(c) at 21 °C", "offset": 17},
          "encoding": {
            "x": {"field": "x", "type": "quantitative", "scale": {"domain": [0, 10], "nice": false}, "axis": {"title": "NMOD (mm)", "values": [0, 2, 4, 6, 8, 10], "titlePadding": 30}},
            "y": {"field": "y", "type": "quantitative", "scale": {"domain": [0, 3], "nice": false}, "axis": {"title": "Force (kN)", "values": [0, 0.5, 1, 1.5, 2, 2.5, 3], "format": ".1f"}}
          },
          "layer": [
            {"mark": {"type": "line", "color": "black", "strokeWidth": 1.5}, "encoding": {"detail": {"field": "s", "type": "nominal"}}},
            {"transform": [{"filter": "datum.s === '50 mm/min'"}], "mark": {"type": "point", "shape": "diamond", "filled": true, "fill": "#FF0000", "stroke": "black", "strokeWidth": 1, "size": 50, "opacity": 1}},
            {"transform": [{"filter": "datum.s === '10 mm/min'"}], "mark": {"type": "point", "shape": "square", "filled": true, "fill": "#FFFF00", "stroke": "black", "strokeWidth": 1, "size": 50, "opacity": 1}},
            {"transform": [{"filter": "datum.s === '5 mm/min'"}], "mark": {"type": "point", "shape": "triangle-up", "filled": true, "fill": "#0000FF", "stroke": "black", "strokeWidth": 1, "size": 50, "opacity": 1}},
            {"transform": [{"filter": "datum.s === '1 mm/min'"}], "mark": {"type": "point", "shape": "circle", "filled": true, "fill": "#00FF00", "stroke": "black", "strokeWidth": 1, "size": 50, "opacity": 1}},
            {"transform": [{"filter": "false"}], "mark": {"type": "point", "filled": true, "stroke": "black", "strokeWidth": 1.5, "size": 625, "opacity": 1},
             "encoding": {
               "fill": {"field": "s", "type": "nominal", "scale": {"domain": ["50 mm/min", "10 mm/min", "5 mm/min", "1 mm/min"], "range": ["#FF0000", "#FFFF00", "#0000FF", "#00FF00"]},
                 "legend": {"legendX": 193, "legendY": 11, "encode": {"legend": {"strokeWidth": {"value": 1.5}}}}},
               "shape": {"field": "s", "type": "nominal",
                 "scale": {"domain": ["50 mm/min", "10 mm/min", "5 mm/min", "1 mm/min"], "range": ["M-1,0H-0.34M0.34,0H1M0,-0.34L0.34,0L0,0.34L-0.34,0ZM9.1,0", "M-1,0H-0.34M0.34,0H1M-0.34,-0.34H0.34V0.34H-0.34ZM9.1,0", "M-1,0H-0.2M0.2,0H1M0,-0.36L0.38,0.28H-0.38ZM9.1,0", "M-1,0H-0.3M0.3,0H1M-0.3,0A0.3,0.3,0,1,0,0.3,0A0.3,0.3,0,1,0,-0.3,0ZM9.1,0"]},
                 "legend": {"legendX": 193, "legendY": 11, "encode": {"legend": {"strokeWidth": {"value": 1.5}}}}}
             }}
          ]
        },
        {
          "width": 356, "height": 238,
          "data": {"name": "d"},
          "title": {"text": "(d) at 30 °C", "offset": 17},
          "encoding": {
            "x": {"field": "x", "type": "quantitative", "scale": {"domain": [0, 10], "nice": false}, "axis": {"title": "NMOD (mm)", "values": [0, 2, 4, 6, 8, 10], "titlePadding": 17}},
            "y": {"field": "y", "type": "quantitative", "scale": {"domain": [0, 3], "nice": false}, "axis": {"title": "Force (kN)", "values": [0, 0.5, 1, 1.5, 2, 2.5, 3], "format": ".1f"}}
          },
          "layer": [
            {"mark": {"type": "line", "color": "black", "strokeWidth": 1.5}, "encoding": {"detail": {"field": "s", "type": "nominal"}}},
            {"transform": [{"filter": "datum.s === '50 mm/min'"}], "mark": {"type": "point", "shape": "diamond", "filled": true, "fill": "#FF0000", "stroke": "black", "strokeWidth": 1, "size": 50, "opacity": 1}},
            {"transform": [{"filter": "datum.s === '10 mm/min'"}], "mark": {"type": "point", "shape": "square", "filled": true, "fill": "#FFFF00", "stroke": "black", "strokeWidth": 1, "size": 50, "opacity": 1}},
            {"transform": [{"filter": "datum.s === '5 mm/min'"}], "mark": {"type": "point", "shape": "triangle-up", "filled": true, "fill": "#0000FF", "stroke": "black", "strokeWidth": 1, "size": 50, "opacity": 1}},
            {"transform": [{"filter": "datum.s === '1 mm/min'"}], "mark": {"type": "point", "shape": "circle", "filled": true, "fill": "#00FF00", "stroke": "black", "strokeWidth": 1, "size": 50, "opacity": 1}},
            {"transform": [{"filter": "false"}], "mark": {"type": "point", "filled": true, "stroke": "black", "strokeWidth": 1.5, "size": 625, "opacity": 1},
             "encoding": {
               "fill": {"field": "s", "type": "nominal", "scale": {"domain": ["50 mm/min", "10 mm/min", "5 mm/min", "1 mm/min"], "range": ["#FF0000", "#FFFF00", "#0000FF", "#00FF00"]},
                 "legend": {"legendX": 198, "legendY": 10, "encode": {"legend": {"strokeWidth": {"value": 1.5}}}}},
               "shape": {"field": "s", "type": "nominal",
                 "scale": {"domain": ["50 mm/min", "10 mm/min", "5 mm/min", "1 mm/min"], "range": ["M-1,0H-0.34M0.34,0H1M0,-0.34L0.34,0L0,0.34L-0.34,0ZM9.1,0", "M-1,0H-0.34M0.34,0H1M-0.34,-0.34H0.34V0.34H-0.34ZM9.1,0", "M-1,0H-0.2M0.2,0H1M0,-0.36L0.38,0.28H-0.38ZM9.1,0", "M-1,0H-0.3M0.3,0H1M-0.3,0A0.3,0.3,0,1,0,0.3,0A0.3,0.3,0,1,0,-0.3,0ZM9.1,0"]},
                 "legend": {"legendX": 198, "legendY": 10, "encode": {"legend": {"strokeWidth": {"value": 1.5}}}}}
             }}
          ]
        }
      ]
    }
  ]
}
